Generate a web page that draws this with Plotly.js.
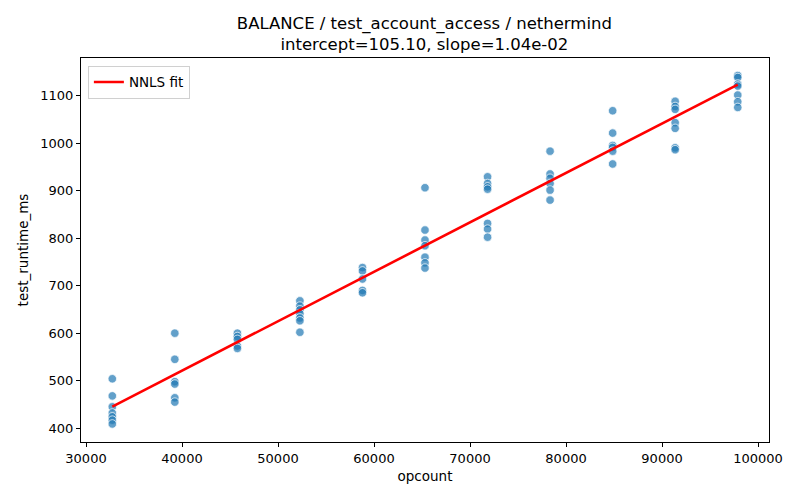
<!DOCTYPE html>
<html>
<head>
<meta charset="utf-8">
<script src="https://cdn.plot.ly/plotly-3.0.1.min.js"></script>
<style>
  html, body { margin: 0; padding: 0; background: #fff; }
  #myDiv { width: 800px; height: 500px; }
</style>
</head>
<body>
<div id="myDiv"></div>
<script>
// opcount groups (one per column of points)
let opcounts = [32740, 39250, 45770, 52280, 58800, 65310, 71830, 78340, 84860, 91370, 97890]

// runtimes, one list per opcount
let runtimes = [
  [504, 468, 445, 432, 424, 417, 409],
  [600, 545, 498, 493, 464, 455],
  [600, 593, 587, 573, 568],
  [668, 657, 649, 641, 632, 626, 602],
  [738, 731, 714, 690, 685],
  [906, 817, 796, 784, 760, 748, 737],
  [929, 915, 908, 903, 831, 819, 802],
  [983, 935, 926, 915, 901, 880],
  [1068, 1021, 995, 991, 983, 956],
  [1088, 1077, 1071, 1043, 1031, 990, 986],
  [1142, 1138, 1124, 1120, 1101, 1087, 1075]
]

// fit parameters shown in the title
let intercept = 105.10
let slope = 1.04e-02

// flatten into x / y
let xs = []
let ys = []
opcounts.forEach((op, i) => {
  runtimes[i].forEach(v => {
    xs.push(op)
    ys.push(v)
  })
})

let xmin = Math.min(...xs)
let xmax = Math.max(...xs)

let font = 'DejaVu Sans, sans-serif'

var points = {
  x: xs,
  y: ys,
  mode: 'markers',
  type: 'scatter',
  showlegend: false,
  marker: {
    color: 'rgba(31,119,180,0.7)',
    size: 8.5,
    line: {color: 'rgba(255,255,255,0.9)', width: 0.8}
  },
  hoverinfo: 'skip'
}

var fit = {
  x: [xmin, xmax],
  y: [intercept + slope * xmin, intercept + slope * xmax],
  mode: 'lines',
  type: 'scatter',
  name: 'NNLS fit',
  line: {color: '#ff0000', width: 2.6}
}

let axis = {
  showline: true,
  mirror: true,
  linecolor: '#000',
  linewidth: 1,
  ticks: 'outside',
  ticklen: 4,
  tickwidth: 1,
  tickcolor: '#000',
  showgrid: false,
  zeroline: false,
  tickfont: {family: font, size: 13, color: '#000'}
}

var layout = {
  width: 800,
  height: 500,
  paper_bgcolor: '#fff',
  plot_bgcolor: '#fff',
  margin: {l: 81, r: 31, t: 58, b: 58},
  font: {family: font, color: '#000'},
  title: {
    text: 'BALANCE / test_account_access / nethermind<br>intercept=105.10, slope=1.04e-02',
    font: {family: font, size: 16.5, color: '#000'},
    x: 0.5305,
    xanchor: 'center',
    yref: 'container',
    y: 0.943,
    yanchor: 'top'
  },
  xaxis: Object.assign({}, axis, {
    range: [29479, 101145],
    tick0: 30000,
    dtick: 10000,
    tickformat: 'd',
    title: {text: 'opcount', font: {family: font, size: 13.5, color: '#000'}, standoff: 6}
  }),
  yaxis: Object.assign({}, axis, {
    range: [371, 1179],
    tick0: 400,
    dtick: 100,
    title: {text: 'test_runtime_ms', font: {family: font, size: 13.5, color: '#000'}, standoff: 8}
  }),
  legend: {
    x: 0.01,
    y: 0.98,
    xanchor: 'left',
    yanchor: 'top',
    bgcolor: 'rgba(255,255,255,0.8)',
    bordercolor: '#d0d0d0',
    borderwidth: 1,
    tracegroupgap: 0,
    itemwidth: 30,
    font: {family: font, size: 13.5, color: '#000'}
  }
}

Plotly.newPlot('myDiv', [points, fit], layout, {displayModeBar: false, staticPlot: true})
</script>
</body>
</html>
